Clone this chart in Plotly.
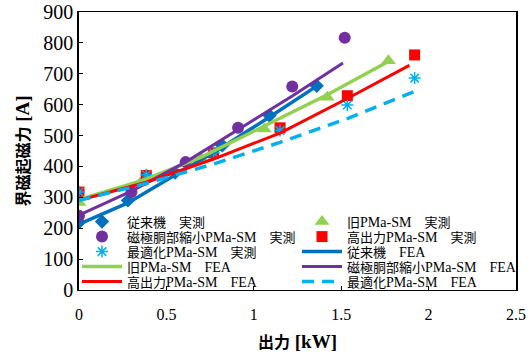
import re
import plotly.graph_objects as go

# ---- data ----
x_conv = [0, 0.28, 0.55, 0.82, 1.09, 1.36]
y_conv_meas = [219, 290, 380, 468, 565, 661]
y_conv_fea = [213, 282, 372, 462, 560, 660]

x_old = [0, 0.35, 0.70, 1.06, 1.42, 1.77]
y_old_meas = [283, 346, 425, 521, 624, 742]
y_old_fea = [293, 352, 430, 530, 632, 740]

x_pole = [0, 0.30, 0.61, 0.91, 1.22, 1.52]
y_pole_meas = [240, 317, 414, 525, 659, 817]
x_pole_fea = [0, 0.30, 0.61, 0.91, 1.22, 1.51]
y_pole_fea = [242, 320, 414, 520, 628, 735]

x_high = [0, 0.385, 0.77, 1.15, 1.535, 1.92]
y_high_meas = [317, 371, 444, 525, 629, 761]
x_high_fea = [0, 0.385, 0.77, 1.15, 1.535, 1.89]
y_high_fea = [290, 349, 424, 508, 620, 727]

x_opt = [0, 0.385, 0.77, 1.15, 1.535, 1.92]
y_opt_meas = [317, 373, 444, 516, 599, 686]
y_opt_fea = [290, 345, 408, 478, 555, 643]

names = [
    "従来機　実測", "旧PMa-SM　実測", "磁極胴部縮小PMa-SM　実測", "高出力PMa-SM　実測",
    "最適化PMa-SM　実測", "従来機　FEA", "旧PMa-SM　FEA", "磁極胴部縮小PMa-SM　FEA",
    "高出力PMa-SM　FEA", "最適化PMa-SM　FEA",
]
x_title = "出力 [kW]"
y_title = "界磁起磁力 [A]"
x_ticks = [0, 0.5, 1, 1.5, 2, 2.5]
x_tick_text = ["0", "0.5", "1", "1.5", "2", "2.5"]
y_ticks = [0, 100, 200, 300, 400, 500, 600, 700, 800, 900]

BLUE = "#0070C0"
GREEN = "#92D050"
PURPLE = "#7030A0"
RED = "#FF0000"
LBLUE = "#00B0F0"
FONT = "Liberation Serif, Noto Sans CJK JP, serif"


def cjk_small(text, size):
    # render CJK runs at a smaller size than the Latin (serif) runs
    return re.sub(r"([^\x00-\x7f]+)", lambda m: f'<span style="font-size:{size}px">{m.group(1)}</span>', text)


LEG_CJK = 13

fig = go.Figure()

# measured
fig.add_trace(go.Scatter(x=x_conv, y=y_conv_meas, mode="markers", name=cjk_small(names[0], LEG_CJK), legend="legend",
                         marker=dict(symbol="diamond", size=11, color=BLUE)))
fig.add_trace(go.Scatter(x=x_old, y=y_old_meas, mode="markers", name=cjk_small(names[1], LEG_CJK), legend="legend2",
                         marker=dict(symbol="triangle-up", size=13, color=GREEN)))
fig.add_trace(go.Scatter(x=x_pole, y=y_pole_meas, mode="markers", name=cjk_small(names[2], LEG_CJK), legend="legend3",
                         marker=dict(symbol="circle", size=12, color=PURPLE)))
fig.add_trace(go.Scatter(x=x_high, y=y_high_meas, mode="markers", name=cjk_small(names[3], LEG_CJK), legend="legend4",
                         marker=dict(symbol="square", size=11, color=RED)))
fig.add_trace(go.Scatter(x=x_opt, y=y_opt_meas, mode="markers", name=cjk_small(names[4], LEG_CJK), legend="legend5",
                         marker=dict(symbol="asterisk-open", size=10, color=LBLUE,
                                     line=dict(color=LBLUE, width=1.5))))
# FEA
fig.add_trace(go.Scatter(x=x_conv, y=y_conv_fea, mode="lines", name=cjk_small(names[5], LEG_CJK), legend="legend6",
                         line=dict(color=BLUE, width=3.5)))
fig.add_trace(go.Scatter(x=x_old, y=y_old_fea, mode="lines", name=cjk_small(names[6], LEG_CJK), legend="legend7",
                         line=dict(color=GREEN, width=3.5)))
fig.add_trace(go.Scatter(x=x_pole_fea, y=y_pole_fea, mode="lines", name=cjk_small(names[7], LEG_CJK), legend="legend8",
                         line=dict(color=PURPLE, width=3)))
fig.add_trace(go.Scatter(x=x_high_fea, y=y_high_fea, mode="lines", name=cjk_small(names[8], LEG_CJK), legend="legend9",
                         line=dict(color=RED, width=3)))
fig.add_trace(go.Scatter(x=x_opt, y=y_opt_fea, mode="lines", name=cjk_small(names[9], LEG_CJK), legend="legend10",
                         line=dict(color=LBLUE, width=3.5, dash="12px,8px")))

# plot area in pixels: x 79..516, y 12..290
L, R, T, B = 79, 516, 12, 290
W, H = 532, 352


def px2paper(px, py):
    return (px - L) / (R - L), (B - py) / (B - T)


col_left = [77, 297]
row_y = [222, 237, 252, 267, 282]
legend_layout = {}
for i in range(10):
    col = i % 2
    row = i // 2
    lx, ly = px2paper(col_left[col], row_y[row])
    key = "legend" if i == 0 else f"legend{i + 1}"
    legend_layout[key] = dict(
        x=lx, y=ly, xanchor="left", yanchor="middle",
        bgcolor="rgba(0,0,0,0)", borderwidth=0,
        font=dict(family=FONT, size=14, color="black"),
        itemwidth=40, tracegroupgap=0,
    )

fig.update_layout(
    width=W, height=H,
    margin=dict(l=L, r=W - R, t=T, b=H - B, pad=0, autoexpand=False),
    paper_bgcolor="white", plot_bgcolor="white",
    font=dict(family=FONT, color="black"),
    showlegend=True,
    **legend_layout,
)

fig.update_xaxes(
    range=[0, 2.5], tickvals=x_ticks, ticktext=x_tick_text,
    ticks="inside", ticklen=4, tickcolor="black",
    showline=True, linecolor="black", linewidth=1, mirror=True,
    showgrid=False, zeroline=False, automargin=False,
    tickfont=dict(family=FONT, size=16, color="black"),
    ticklabelstandoff=10,
    title=dict(text="<b>" + cjk_small(x_title, 16) + "</b>",
               font=dict(family=FONT, size=19, color="black"), standoff=12),
)
fig.update_yaxes(
    range=[0, 900], tickvals=y_ticks,
    ticks="inside", ticklen=4, tickcolor="black",
    showline=True, linecolor="black", linewidth=1.5, mirror=True,
    showgrid=False, zeroline=False, automargin=False,
    tickfont=dict(family=FONT, size=20, color="black"),
    title=dict(text="<b>" + cjk_small(y_title, 16) + "</b>",
               font=dict(family=FONT, size=19, color="black"), standoff=9),
)

fig.write_html("out.html")
